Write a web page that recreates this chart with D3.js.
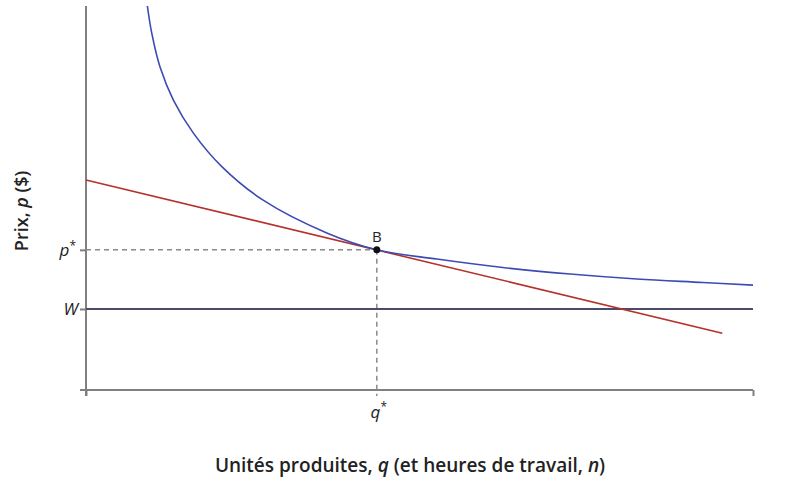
<!DOCTYPE html>
<html>
<head>
<meta charset="utf-8">
<script src="https://cdn.jsdelivr.net/npm/d3@7"></script>
<style>
  body { margin: 0; background: #fff; }
  svg { display: block; font-family: "Open Sans", "Noto Sans", sans-serif; }
</style>
</head>
<body>
<svg id="chart" width="810" height="500"></svg>
<script>
// isoprofit curve (blue)
const curveQ = [9.2, 9.85, 11.1, 13.1, 16.1, 20.4, 26.5, 36.1, 43.6, 52.6, 62.5, 72.6, 82.6, 92.5, 100];
const curveP = [100, 93.0, 84.1, 75.5, 66.9, 58.1, 49.5, 40.9, 36.5, 34.1, 31.9, 30.2, 28.9, 28.0, 27.3];

// demand line (red), two ends
const demandQ = [0, 95.4];
const demandP = [54.7, 14.8];

const wage = 21.1;
const qStar = 43.6;
const pStar = 36.5;

const yTicks = [pStar, wage];
const yTickLabels = ['p', 'W'];

const svg = d3.select('#chart');
const margin = { left: 86, right: 57, top: 6, bottom: 110 };
const width = 810 - margin.left - margin.right;
const height = 500 - margin.top - margin.bottom;

const x = d3.scaleLinear().domain([0, 100]).range([margin.left, margin.left + width]);
const y = d3.scaleLinear().domain([0, 100]).range([margin.top + height, margin.top]);

const axisColor = '#808080';

// axes
const xAxis = svg.append('g')
    .attr('transform', `translate(0,${y(0)})`)
    .call(d3.axisBottom(x).tickValues([0, 100]).tickSize(6).tickSizeOuter(0).tickFormat(''));
xAxis.select('.domain').attr('d', `M${x(0) - 6},0H${x(100)}`);

const yAxis = svg.append('g')
    .attr('transform', `translate(${x(0)},0)`)
    .call(d3.axisLeft(y).tickValues(yTicks).tickSize(6).tickSizeOuter(0).tickFormat(''));
yAxis.select('.domain').attr('d', `M0,${y(100)}V${y(0) + 6}`);

svg.selectAll('.domain, .tick line')
    .attr('stroke', axisColor)
    .attr('stroke-width', 2);

// dashed guides to B
svg.append('line')
    .attr('x1', x(0)).attr('x2', x(qStar))
    .attr('y1', y(pStar)).attr('y2', y(pStar))
    .attr('stroke', '#8a8a8a').attr('stroke-width', 1.5)
    .attr('stroke-dasharray', '5,4');
svg.append('line')
    .attr('x1', x(qStar)).attr('x2', x(qStar))
    .attr('y1', y(pStar)).attr('y2', y(0) + 6)
    .attr('stroke', '#8a8a8a').attr('stroke-width', 1.5)
    .attr('stroke-dasharray', '5,4');

// wage line
svg.append('line')
    .attr('x1', x(0)).attr('x2', x(100))
    .attr('y1', y(wage)).attr('y2', y(wage))
    .attr('stroke', '#4a4a6a').attr('stroke-width', 2);

// demand line
const line = d3.line().x(d => x(d[0])).y(d => y(d[1]));
svg.append('path')
    .datum(d3.zip(demandQ, demandP))
    .attr('d', line)
    .attr('fill', 'none')
    .attr('stroke', '#b5312b')
    .attr('stroke-width', 1.6);

// isoprofit curve
svg.append('path')
    .datum(d3.zip(curveQ, curveP))
    .attr('d', line.curve(d3.curveCatmullRom.alpha(0.5)))
    .attr('fill', 'none')
    .attr('stroke', '#3c4bb4')
    .attr('stroke-width', 1.6);

// point B
svg.append('circle')
    .attr('cx', x(qStar)).attr('cy', y(pStar)).attr('r', 3.5)
    .attr('fill', '#111');
svg.append('text')
    .attr('x', x(qStar)).attr('y', y(pStar) - 8)
    .attr('text-anchor', 'middle')
    .attr('font-size', 15).attr('fill', '#222')
    .text('B');

// y tick labels
const yl = svg.append('g');
yl.selectAll('text')
    .data(yTicks)
    .join('text')
    .attr('x', x(0) - 10)
    .attr('y', d => y(d) + 6)
    .attr('text-anchor', 'end')
    .attr('font-size', 17)
    .attr('font-style', 'italic')
    .attr('fill', '#222')
    .each(function (d, i) {
        const t = d3.select(this);
        t.append('tspan').text(yTickLabels[i]);
        if (i === 0) t.append('tspan').attr('dy', -6).attr('font-size', 12).attr('font-style', 'normal').text('*');
    });
// shift W so it lines up with p
yl.selectAll('text').filter((d, i) => i === 1).attr('x', x(0) - 8);

// q* label
const qLabel = svg.append('text')
    .attr('x', x(qStar) + 2).attr('y', 418)
    .attr('text-anchor', 'middle')
    .attr('font-size', 17).attr('fill', '#222');
qLabel.append('tspan').attr('font-style', 'italic').text('q');
qLabel.append('tspan').attr('dy', -7).attr('font-size', 12).text('*');

// axis titles
const xTitle = svg.append('text')
    .attr('x', 410).attr('y', 472)
    .attr('text-anchor', 'middle')
    .attr('font-size', 19).attr('font-weight', 600).attr('fill', '#222');
xTitle.append('tspan').text('Unités produites, ');
xTitle.append('tspan').attr('font-style', 'italic').text('q');
xTitle.append('tspan').text(' (et heures de travail, ');
xTitle.append('tspan').attr('font-style', 'italic').text('n');
xTitle.append('tspan').text(')');

const yTitle = svg.append('text')
    .attr('transform', 'translate(28,211) rotate(-90)')
    .attr('text-anchor', 'middle')
    .attr('font-size', 18).attr('font-weight', 600).attr('fill', '#222');
yTitle.append('tspan').text('Prix, ');
yTitle.append('tspan').attr('font-style', 'italic').text('p');
yTitle.append('tspan').text(' ($)');
</script>
</body>
</html>
